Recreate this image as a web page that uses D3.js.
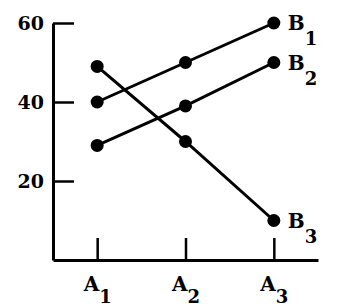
<!DOCTYPE html>
<html>
<head>
<meta charset="utf-8">
<script src="https://cdn.jsdelivr.net/npm/d3@7"></script>
<style>
  html, body { margin: 0; padding: 0; background: #fff; }
  svg { display: block; }
  text { font-family: "DejaVu Serif", "Liberation Serif", serif; font-weight: bold; fill: #000; }
</style>
</head>
<body>
<script>
// ---- data ----
const categories = ["A1", "A2", "A3"];
const seriesNames = ["B1", "B2", "B3"];
const b1Values = [40, 50, 60];
const b2Values = [29, 39, 50];
const b3Values = [49, 30, 10];
const yTickValues = [20, 40, 60];
const yDomain = [0, 60];

const seriesValues = [b1Values, b2Values, b3Values];

const W = 352, H = 308;
const svg = d3.select("body").append("svg").attr("width", W).attr("height", H);

const x = d3.scalePoint().domain(categories).range([53, 318]).padding(0.5);
const y = d3.scaleLinear().domain(yDomain).range([260, 23]);

// y axis
const yAxis = d3.axisLeft(y).tickValues(yTickValues).tickSizeInner(-21).tickSizeOuter(0).tickPadding(9);
const gy = svg.append("g").attr("transform", "translate(53,0)").call(yAxis);
gy.select(".domain").attr("stroke", "#000").attr("stroke-width", 3);
gy.selectAll(".tick line").attr("stroke", "#000").attr("stroke-width", 2.5);
gy.selectAll(".tick text").style("font-size", "19px").attr("fill", "#000");

// x axis
const xAxis = d3.axisBottom(x).tickSizeInner(-22).tickSizeOuter(0).tickFormat("");
const gx = svg.append("g").attr("transform", "translate(0,260)").call(xAxis);
gx.select(".domain").attr("stroke", "#000").attr("stroke-width", 3);
gx.selectAll(".tick line").attr("stroke", "#000").attr("stroke-width", 2.5);
gx.selectAll(".tick text").remove();
gx.selectAll(".tick").append("text")
  .attr("text-anchor", "middle")
  .attr("y", 31)
  .style("font-size", "20px")
  .each(function(d) {
    const t = d3.select(this);
    t.append("tspan").text(d.slice(0, 1));
    t.append("tspan").attr("dy", 12).style("font-size", "18px").text(d.slice(1));
  });

// lines and points
const line = d3.line().x((d, i) => x(categories[i])).y(d => y(d));
seriesValues.forEach((vals, si) => {
  const g = svg.append("g");
  g.append("path").datum(vals).attr("d", line)
    .attr("fill", "none").attr("stroke", "#000").attr("stroke-width", 3);
  g.selectAll("circle").data(vals).join("circle")
    .attr("cx", (d, i) => x(categories[i]))
    .attr("cy", d => y(d))
    .attr("r", 6.5)
    .attr("fill", "#000");
  const last = vals[vals.length - 1];
  const name = seriesNames[si];
  const lbl = g.append("text")
    .attr("x", x(categories[categories.length - 1]) + 14)
    .attr("y", y(last) + 7)
    .style("font-size", "20px");
  lbl.append("tspan").text(name.slice(0, 1));
  lbl.append("tspan").attr("dy", 15).style("font-size", "18px").text(name.slice(1));
});
</script>
</body>
</html>
